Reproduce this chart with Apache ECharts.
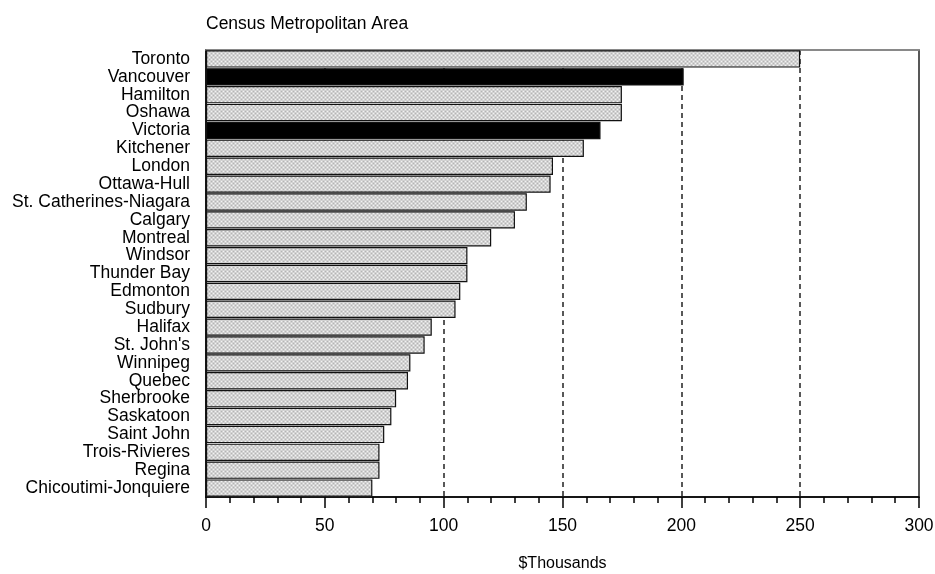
<!DOCTYPE html>
<html>
<head>
<meta charset="utf-8">
<script src="https://cdn.jsdelivr.net/npm/echarts@6/dist/echarts.min.js"></script>
<style>
html,body{margin:0;padding:0;background:#fff;}
#chart{width:935px;height:574px;}
</style>
</head>
<body>
<div id="chart"></div>
<script>
var categories = ['Toronto','Vancouver','Hamilton','Oshawa','Victoria','Kitchener','London','Ottawa-Hull','St. Catherines-Niagara','Calgary','Montreal','Windsor','Thunder Bay','Edmonton','Sudbury','Halifax',"St. John's",'Winnipeg','Quebec','Sherbrooke','Saskatoon','Saint John','Trois-Rivieres','Regina','Chicoutimi-Jonquiere'];
var values = [250,201,175,175,166,159,146,145,135,130,120,110,110,107,105,95,92,86,85,80,78,75,73,73,70];
var highlighted = ['Vancouver','Victoria'];
var xTicks = [0,50,100,150,200,250,300];

var FONT = "'Liberation Sans', Arial, sans-serif";

var pc = document.createElement('canvas');
pc.width = 4; pc.height = 4;
var g = pc.getContext('2d');
g.fillStyle = '#d2d2d2'; g.fillRect(0,0,4,4);
g.fillStyle = '#f2f2f2'; g.fillRect(1,1,1,1); g.fillRect(3,3,1,1);
g.fillStyle = '#b4b4b4'; g.fillRect(3,1,1,1); g.fillRect(1,3,1,1);

var barData = categories.map(function(c,i){
  var hi = highlighted.indexOf(c) >= 0;
  return {value: values[i], itemStyle: {color: hi ? '#000' : {image: pc, repeat: 'repeat'}}};
});

var chart = echarts.init(document.getElementById('chart'), null, {renderer:'canvas'});
chart.setOption({
  animation: false,
  backgroundColor: '#fff',
  title: {
    text: 'Census Metropolitan Area',
    left: 201, top: 10,
    textStyle: {fontFamily: FONT, fontSize: 17.5, fontWeight: 'normal', color: '#000'}
  },
  grid: {left: 206, right: 16, top: 50, bottom: 77, show: true, borderColor: '#222', borderWidth: 1.5,
    containLabel: false, outerBoundsMode: 'none'},
  xAxis: [{
    type: 'value', min: 0, max: 300, interval: 50,
    name: '$Thousands', nameLocation: 'middle', nameGap: 59,
    nameTextStyle: {fontFamily: FONT, fontSize: 16, color: '#000'},
    axisLine: {show: true, lineStyle: {color: '#000', width: 1.5}},
    axisTick: {show: true, length: 11, lineStyle: {color: '#000', width: 1.5}},
    minorTick: {show: true, splitNumber: 5, length: 6, lineStyle: {color: '#000', width: 1.5}},
    axisLabel: {fontFamily: FONT, fontSize: 17.5, color: '#000', margin: 20,
      formatter: function(v){ return xTicks.indexOf(v) >= 0 ? String(v) : ''; }},
    splitLine: {show: true, showMinLine: false, showMaxLine: false, lineStyle: {color: '#222', width: 1.5, type: [5,4]}}
  },{
    type: 'value', position: 'top', min: 0, max: 300,
    axisLine: {show: true, lineStyle: {color: '#999', width: 1.5}},
    axisTick: {show: false}, axisLabel: {show: false}, splitLine: {show: false}
  }],
  yAxis: {
    type: 'category', data: categories, inverse: true,
    axisLine: {show: true, lineStyle: {color: '#000', width: 1.5}},
    axisTick: {show: false},
    axisLabel: {fontFamily: FONT, fontSize: 17.5, color: '#000', margin: 16, interval: 0}
  },
  series: [{
    type: 'bar', data: barData, barCategoryGap: '3%',
    itemStyle: {borderColor: '#111', borderWidth: 1.2}
  }]
});
</script>
</body>
</html>
